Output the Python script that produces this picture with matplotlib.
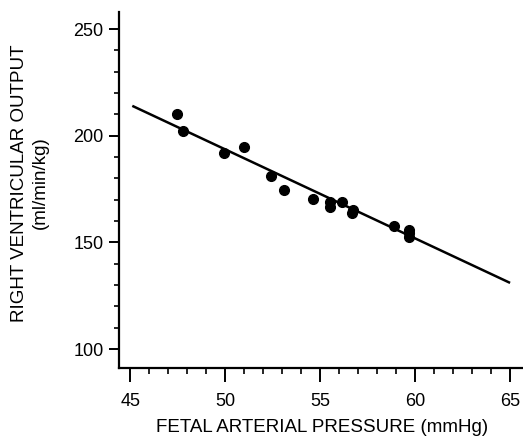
import numpy as np
import matplotlib.pyplot as plt

plt.rcParams['font.family'] = ['Liberation Sans', 'DejaVu Sans']

# puntos medidos
presion = [47.44, 47.77, 49.91, 50.98, 52.42, 53.09, 54.61, 55.49, 55.49, 56.14,
           56.75, 56.67, 58.86, 59.70, 59.65, 59.70]
gasto = [210.2, 202.4, 192.0, 194.6, 181.1, 174.6, 170.2, 169.1, 166.7, 168.8,
         165.2, 163.6, 157.7, 155.8, 152.4, 154.5]

# recta de regresion
recta_x = [45.1, 65.0]
recta_y = [214.0, 131.0]

xticks = [45, 50, 55, 60, 65]
yticks = [100, 150, 200, 250]

fig = plt.figure(figsize=(5.23, 4.43), dpi=100)
ax = fig.add_axes([119/523, 75/443, 404/523, 356/443])

ax.plot(recta_x, recta_y, color='black', lw=1.8, solid_capstyle='butt')
ax.plot(presion, gasto, 'o', color='black', ms=7)

ax.set_xlim(44.4, 65.68)
ax.set_ylim(91.1, 258)
ax.set_xticks(xticks)
ax.set_yticks(yticks)
ax.set_xticks(np.arange(45, 66, 1), minor=True)
ax.set_yticks(np.arange(100, 251, 10), minor=True)

for s in ['top', 'right']:
    ax.spines[s].set_visible(False)
for s in ['left', 'bottom']:
    ax.spines[s].set_linewidth(1.6)

ax.tick_params(axis='x', which='major', length=10, width=1.4, labelsize=13, pad=8)
ax.tick_params(axis='x', which='minor', length=4, width=1.2)
ax.tick_params(axis='y', which='major', length=7, width=1.4, labelsize=13, pad=4)
ax.tick_params(axis='y', which='minor', length=3.5, width=1.2)

fig.text(322/523, 1 - 427/443, 'FETAL ARTERIAL PRESSURE (mmHg)', fontsize=13.5,
         ha='center', va='center')
fig.text(30/523, 1 - 183/443, 'RIGHT VENTRICULAR OUTPUT\n(ml/min/kg)', rotation=90,
         ha='center', va='center', multialignment='center', fontsize=13.5,
         linespacing=1.35)

fig.savefig('out.png', dpi=100)
